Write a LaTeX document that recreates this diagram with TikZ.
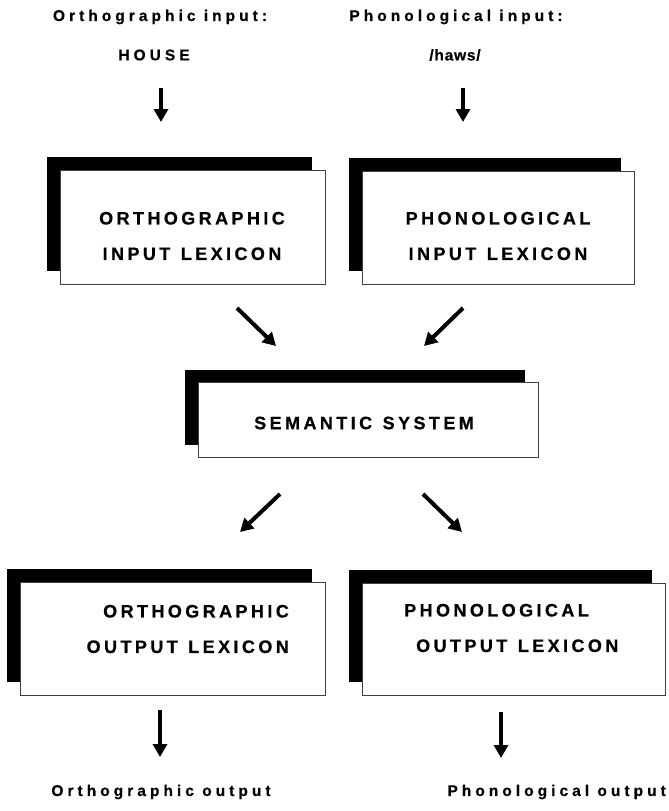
\documentclass[tikz,border=0pt]{standalone}
\usepackage{fontspec}
\setmainfont{Liberation Sans}
\newfontfamily\boxfont[LetterSpace=19,WordSpace=1.25,FakeBold=0.6]{Liberation Sans}
\newfontfamily\lblfont[LetterSpace=26,FakeBold=0.5]{Liberation Sans}
\newfontfamily\hawsfont[LetterSpace=5,FakeBold=0.5]{Liberation Sans}
\usetikzlibrary{arrows.meta,shadows}
\tikzset{
  lexbox/.style={draw=black!75, line width=0.9pt, fill=white, inner sep=0pt,
    drop shadow={shadow xshift=-13pt, shadow yshift=13pt, fill=black, opacity=1}},
  boxtext/.style={font=\boxfont\bfseries\fontsize{18}{35.5}\selectfont, inner sep=0pt},
  lbl/.style={font=\lblfont\bfseries\fontsize{15.5}{18}\selectfont, inner sep=0pt},
  arr/.style={line width=4pt, -{Triangle[width=14pt,length=13pt]}},
}
\begin{document}
\begin{tikzpicture}[x=1pt,y=-1pt]
\useasboundingbox (0,0) rectangle (669,811);
% top labels
\node[lbl] (oin) at (160,17) {Orthographic input:};
\node[lbl] (pin) at (456,17) {Phonological input:};
\node[lbl] (house) at (154,55) {HOUSE};
\node[lbl, font=\hawsfont\bfseries\fontsize{15.5}{18}\selectfont] (haws) at (455,55) {/haws/};
% boxes
\node[lexbox, minimum width=265pt, minimum height=114pt] (oil) at (192.5,227) {};
\node[lexbox, minimum width=272pt, minimum height=113pt] (pil) at (498,227.5) {};
\node[lexbox, minimum width=340pt, minimum height=75pt] (sem) at (368,420) {};
\node[lexbox, minimum width=305pt, minimum height=113pt] (ool) at (172.5,638.5) {};
\node[lexbox, minimum width=303pt, minimum height=112pt] (pol) at (513.5,639) {};
% box texts
\node[boxtext, align=center] (toil) at (192,236) {ORTHOGRAPHIC\\INPUT LEXICON};
\node[boxtext, align=center] (tpil) at (498,236) {PHONOLOGICAL\\INPUT LEXICON};
\node[boxtext] (tsem) at (364,423) {SEMANTIC SYSTEM};
\node[boxtext, align=right, anchor=east] (tool) at (289,629) {ORTHOGRAPHIC\\OUTPUT LEXICON};
\node[boxtext, align=left, anchor=west] (tpol) at (404,628) {PHONOLOGICAL\\\hspace*{12pt}OUTPUT LEXICON};
% bottom labels
\node[lbl] (oout) at (161,792) {Orthographic output};
\node[lbl, anchor=east] (pout) at (666,792) {Phonological output};
% arrow coordinates
\coordinate (a1s) at (161,88);  \coordinate (a1e) at (161,122);
\coordinate (a2s) at (463,88);  \coordinate (a2e) at (463,122);
\coordinate (a3s) at (237,308); \coordinate (a3e) at (276,346);
\coordinate (a4s) at (463,308); \coordinate (a4e) at (424,346);
\coordinate (a5s) at (280,494); \coordinate (a5e) at (240,532);
\coordinate (a6s) at (423,494); \coordinate (a6e) at (462,532);
\coordinate (a7s) at (160,710); \coordinate (a7e) at (160,757);
\coordinate (a8s) at (501,712); \coordinate (a8e) at (501,758);
\draw[arr] (a1s) -- (a1e);
\draw[arr] (a2s) -- (a2e);
\draw[arr] (a3s) -- (a3e);
\draw[arr] (a4s) -- (a4e);
\draw[arr] (a5s) -- (a5e);
\draw[arr] (a6s) -- (a6e);
\draw[arr] (a7s) -- (a7e);
\draw[arr] (a8s) -- (a8e);
\end{tikzpicture}
\end{document}
